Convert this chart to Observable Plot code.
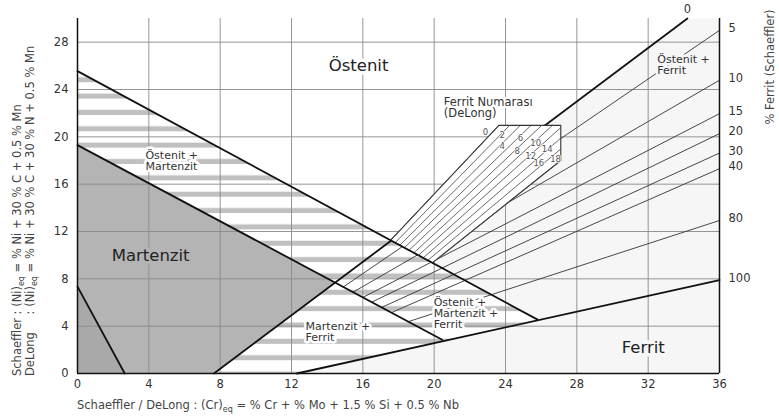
<!DOCTYPE html>
<html><head><meta charset="utf-8">
<script src="https://cdn.jsdelivr.net/npm/d3@7"></script>
<script src="https://cdn.jsdelivr.net/npm/@observablehq/plot@0.6"></script>
<style>body{margin:0;background:#fff}svg{display:block}</style>
</head><body><div id="chart"></div>
<script>
// ---------- axis ticks ----------
const xTicks = [0, 4, 8, 12, 16, 20, 24, 28, 32, 36];
const yTicks = [0, 4, 8, 12, 16, 20, 24, 28];

// ---------- phase boundaries (Cr_eq, Ni_eq) ----------
const austeniteBoundary = [[0, 25.55], [25.8, 4.55]];
const martensiteBoundary = [[0, 19.3], [20.45, 2.85]];
const ferrite0Line = [[7.65, 0], [34.2, 30]];
const ferrite100Line = [[12.3, 0], [36, 7.9]];
const cornerLine = [[0, 7.34], [2.65, 0]];

// ---------- regions ----------
const ferriteSide = [[7.65, 0], [34.2, 30], [36, 30], [36, 0]];
const stripedRegion = [[0, 25.55], [25.8, 4.55], [12.3, 0], [7.65, 0], [14.47, 7.7], [0, 19.3]];
const martensiteRegion = [[0, 0], [7.65, 0], [14.47, 7.7], [0, 19.3]];
const cornerRegion = [[0, 0], [2.65, 0], [0, 7.34]];

// ---------- Schaeffler iso-ferrite lines ----------
const isoLabels = ["5", "10", "15", "20", "30", "40", "80"];
const isoStartX = [14.9, 15.45, 16.0, 16.5, 17.05, 17.6, 18.55];
const isoStartY = [7.31, 6.87, 6.43, 6.03, 5.58, 5.14, 4.38];
const isoEndY = [29.0, 24.78, 21.96, 20.27, 18.63, 17.31, 12.93];
const rightLabels = ["5", "10", "15", "20", "30", "40", "80", "100"];
const rightLabelY = [29.0, 24.78, 21.96, 20.27, 18.63, 17.31, 12.93, 7.9];

// ---------- DeLong ferrite number lines ----------
const fnValues = [0, 2, 4, 6, 8, 10, 12, 14, 16, 18];
const fnTopX = [23.63, 24.23, 24.83, 25.43, 26.03, 26.63, 27.1, 27.1, 27.1, 27.1];
const fnTopY = [20.97, 20.97, 20.97, 20.97, 20.97, 20.97, 20.78, 19.89, 18.97, 18.0];
const fnBottomX = [17.55, 17.81, 18.07, 18.33, 18.59, 18.86, 19.12, 19.38, 19.64, 19.9];
const fnBottomY = [11.26, 11.05, 10.84, 10.63, 10.42, 10.2, 9.99, 9.77, 9.56, 9.35];
const deLongBox = [[17.55, 11.26], [23.63, 20.97], [27.1, 20.97], [27.1, 18.0], [19.9, 9.35]];
const fnLabelText = ["0", "2", "6", "10", "14", "4", "8", "12", "16", "18"];
const fnLabelX = [22.88, 23.82, 24.84, 25.69, 26.34, 23.82, 24.66, 25.41, 25.87, 26.81];
const fnLabelY = [20.38, 20.12, 19.84, 19.42, 18.92, 19.2, 18.8, 18.35, 17.78, 18.07];

// ---------- region labels ----------
const bigLabels = ["Östenit", "Martenzit", "Ferrit"];
const bigLabelX = [15.76, 4.1, 31.72];
const bigLabelY = [26.05, 9.97, 2.2];
const bigHalo = ["#ffffff", "#b4b4b4", "#f6f6f6"];

const smallLabels = ["Östenit +\nMartenzit", "Martenzit +\nFerrit", "Östenit +\nMartenzit +\nFerrit", "Östenit +\nFerrit", "Ferrit Numarası\n(DeLong)"];
const smallLabelX = [3.81, 12.79, 19.97, 32.51, 20.54];
const smallLabelY = [17.97, 3.47, 5.04, 26.05, 22.46];
const smallHalo = ["#ffffff", "#ffffff", "#ffffff", "#f6f6f6", "#ffffff"];
const smallSize = [11, 11, 11, 11, 11.5];

const zeroLabel = {text: "0", x: 34.2, y: 30.75};

// ---------- derived tables ----------
const isoLines = isoLabels.flatMap((l, i) => [
  {id: l, x: isoStartX[i], y: isoStartY[i]},
  {id: l, x: 36, y: isoEndY[i]}
]);
const fnLines = fnValues.flatMap((v, i) => [
  {fn: v, x: fnBottomX[i], y: fnBottomY[i]},
  {fn: v, x: fnTopX[i], y: fnTopY[i]}
]);
const rightTable = rightLabels.map((t, i) => ({t, y: rightLabelY[i]}));
const fnLabelTable = fnLabelText.map((t, i) => ({t, x: fnLabelX[i], y: fnLabelY[i]}));
const bigTable = bigLabels.map((t, i) => ({t, x: bigLabelX[i], y: bigLabelY[i], h: bigHalo[i]}));
const smallTable = smallLabels.map((t, i) => ({t, x: smallLabelX[i], y: smallLabelY[i], h: smallHalo[i], s: smallSize[i]}));

const bold = {stroke: "#111", strokeWidth: 1.8};

const marks = [
  Plot.line(ferriteSide, {fill: "#f6f6f6", stroke: "none"}),
  Plot.line(stripedRegion, {fill: "url(#stripes)", stroke: "none"}),
  Plot.line(martensiteRegion, {fill: "#b4b4b4", stroke: "none"}),
  Plot.line(cornerRegion, {fill: "#a9a9a9", stroke: "none"}),
  Plot.gridX(xTicks, {stroke: "#8a8a8a", strokeOpacity: 1, strokeWidth: 0.9}),
  Plot.gridY(yTicks, {stroke: "#8a8a8a", strokeOpacity: 1, strokeWidth: 0.9}),
  Plot.line(isoLines, {x: "x", y: "y", z: "id", stroke: "#333", strokeWidth: 0.9}),
  Plot.line(ferrite0Line, bold),
  Plot.line(deLongBox, {fill: "#fff", stroke: "#333", strokeWidth: 1.1}),
  Plot.line(fnLines, {x: "x", y: "y", z: "fn", stroke: "#444", strokeWidth: 0.8}),
  Plot.line(austeniteBoundary, bold),
  Plot.line(martensiteBoundary, bold),
  Plot.line(ferrite100Line, bold),
  Plot.line(cornerLine, bold),
  Plot.ruleX([0, 36], {stroke: "#111", strokeWidth: 1.5}),
  Plot.ruleY([0], {stroke: "#111", strokeWidth: 1.5}),
  Plot.axisX(xTicks, {tickSize: 0, tickPadding: 6, label: null, fontSize: 11.5, fill: "#333"}),
  Plot.axisY(yTicks, {tickSize: 0, tickPadding: 9, label: null, fontSize: 11.5, fill: "#333"}),
  Plot.text(rightTable, {x: () => 36, y: "y", text: "t", textAnchor: "start", dx: 9, dy: -2, fontSize: 11.5, fill: "#333"}),
  Plot.text([zeroLabel], {x: "x", y: "y", text: "text", fontSize: 11.5, fill: "#333"}),
  Plot.text(fnLabelTable, {x: "x", y: "y", text: "t", fontSize: 8.5, fill: "#555", stroke: "#fff", strokeWidth: 1.5}),
  Plot.text(bigTable, {x: "x", y: "y", text: "t", fontSize: 16.5, fill: "#222", stroke: "h", strokeWidth: 7}),
  Plot.text(smallTable, {x: "x", y: "y", text: "t", textAnchor: "start", fontSize: "s", lineHeight: 1.0, fill: "#333", stroke: "h", strokeWidth: 5})
];

const plot = Plot.plot({
  width: 779, height: 418,
  marginLeft: 77, marginRight: 60, marginTop: 18, marginBottom: 45,
  x: {domain: [0, 36]},
  y: {domain: [0, 30]},
  color: {type: "identity"},
  style: {fontFamily: "DejaVu Sans", fontSize: "11px", color: "#333", background: "#fff"},
  marks
});
document.getElementById("chart").appendChild(plot);

const svg = d3.select(plot);
const defs = svg.insert("defs", ":first-child");
const pat = defs.append("pattern").attr("id", "stripes").attr("patternUnits", "userSpaceOnUse")
  .attr("x", 0).attr("y", 0).attr("width", 20).attr("height", 16.35);
pat.append("rect").attr("width", 20).attr("height", 16.35).attr("fill", "#fff");
pat.append("rect").attr("y", 11.3).attr("width", 20).attr("height", 6.7).attr("fill", "#c0c0c0");

// axis titles with subscripts
const titleStyle = (t) => t.attr("font-family", "DejaVu Sans").attr("font-size", 11.5).attr("fill", "#444")
  .attr("text-anchor", "start").style("white-space", "pre");
const bt = titleStyle(svg.append("text").attr("x", 77).attr("y", 409));
bt.append("tspan").text("Schaeffler / DeLong : (Cr)");
bt.append("tspan").attr("font-size", 8).attr("dy", 3).text("eq");
bt.append("tspan").attr("dy", -3).text(" = % Cr + % Mo + 1.5 % Si + 0.5 % Nb");

const l1 = titleStyle(svg.append("text").attr("transform", "translate(21,376) rotate(-90)"));
const l1a = l1.append("tspan").text("Schaeffler ");
l1.append("tspan").text(": (Ni)");
l1.append("tspan").attr("font-size", 8).attr("dy", 3).text("eq");
l1.append("tspan").attr("dy", -3).text(" = % Ni + 30 % C + 0.5 % Mn");
const colonX = l1a.node().getComputedTextLength();

const l2 = titleStyle(svg.append("text").attr("transform", "translate(34,376) rotate(-90)"));
l2.append("tspan").text("DeLong");
l2.append("tspan").attr("x", colonX).text(": (Ni)");
l2.append("tspan").attr("font-size", 8).attr("dy", 3).text("eq");
l2.append("tspan").attr("dy", -3).text(" = % Ni + 30 % C + 30 % N + 0.5 % Mn");

titleStyle(svg.append("text").attr("transform", "translate(774,67) rotate(-90)"))
  .attr("text-anchor", "middle").text("% Ferrit (Schaeffler)");
</script></body></html>
